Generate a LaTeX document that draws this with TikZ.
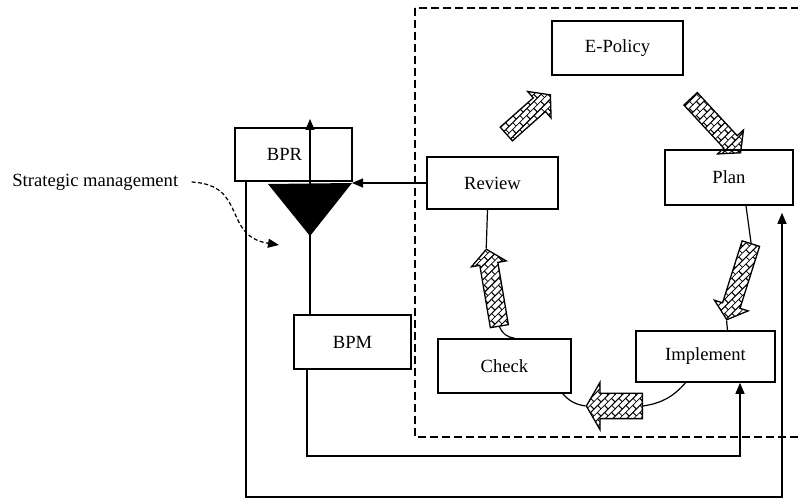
\documentclass[tikz,border=0pt]{standalone}
\usepackage{fontspec}
\setmainfont{Liberation Serif}
\usetikzlibrary{shapes.arrows, arrows.meta, patterns.meta}
\pgfdeclarepattern{
  name=diagbricks,
  bottom left={\pgfpoint{-.1pt}{-.1pt}},
  top right={\pgfpoint{5.1pt}{5.1pt}},
  tile size={\pgfpoint{5pt}{5pt}},
  tile transformation={\pgftransformrotate{45}},
  code={
    \pgfsetlinewidth{0.55pt}
    \pgfpathmoveto{\pgfpoint{0pt}{0pt}}\pgfpathlineto{\pgfpoint{5pt}{0pt}}
    \pgfpathmoveto{\pgfpoint{0pt}{2.5pt}}\pgfpathlineto{\pgfpoint{5pt}{2.5pt}}
    \pgfpathmoveto{\pgfpoint{0pt}{0pt}}\pgfpathlineto{\pgfpoint{0pt}{2.5pt}}
    \pgfpathmoveto{\pgfpoint{2.5pt}{2.5pt}}\pgfpathlineto{\pgfpoint{2.5pt}{5pt}}
    \pgfusepath{stroke}
  }
}
\tikzset{
    box/.style={rectangle, draw=black, line width=0.8pt, fill=white, inner sep=0pt},
    cyclearrow/.style={single arrow, draw=black, line width=0.65pt, pattern=diagbricks, inner xsep=0pt, inner ysep=4.25pt, minimum width=17pt, single arrow head extend=4.25pt, single arrow tip angle=100, sloped, allow upside down, midway},
    arr/.style={-{Triangle[length=5.5pt,width=4.5pt]}, line width=0.6pt},
    link/.style={line width=0.6pt}
}
\begin{document}
\begin{tikzpicture}[x=0.5pt, y=-0.5pt, font=\fontsize{9.3}{11}\selectfont]
    \useasboundingbox (0,0) rectangle (798,501);
    % dashed frame round the cycle
    \draw[dashed, dash pattern=on 4pt off 2pt, line width=0.75pt] (415,8) rectangle (820,437);
    % cycle boxes
    \node[box, minimum width=65.5pt, minimum height=27pt] (epolicy) at (617.5,48) {E-Policy};
    \node[box, minimum width=65.5pt, minimum height=26pt] (review) at (492.5,183) {Review};
    \node[box, minimum width=64pt, minimum height=27.5pt] (plan) at (729,177.5) {Plan};
    \node[box, minimum width=69.5pt, minimum height=25.5pt] (implement) at (705.5,356.5) {Implement};
    \node[box, minimum width=66.5pt, minimum height=27pt] (check) at (504.5,366) {Check};
    % left side
    \node[box, minimum width=58.5pt, minimum height=27pt] (bpm) at (352.5,342) {BPM};
    \node[box, minimum width=58.5pt, minimum height=26.5pt, label={[xshift=-4.5pt]center:BPR}] (bpr) at (293.5,154.5) {};
    \node[anchor=west, inner sep=0pt] (strat) at (12,182) {Strategic management};
    \coordinate (triL) at (268,184);
    \coordinate (triR) at (352,183);
    \coordinate (triB) at (310,236);
    \fill (triL) -- (triR) -- (triB) -- cycle;
    \coordinate (smTip) at (279,245);
    \draw[arr, dashed, dash pattern=on 2pt off 1.2pt] ([xshift=6.5pt]strat.east) .. controls (248,185) and (222,236) .. (smTip);
    % hatched cycle arrows
    \path (503,137) -- (548,97) node[cyclearrow, minimum height=29.5pt] (a1) {};
    \path (688,96) -- (738,150) node[cyclearrow, minimum height=36.8pt] (a2) {};
    \path (752,240) -- (728,316) node[cyclearrow, minimum height=39.9pt] (a3) {};
    \path (646,406) -- (590,406) node[cyclearrow, minimum height=28pt, inner ysep=6pt, minimum width=23pt, single arrow head extend=5.5pt, single arrow tip angle=120] (a4) {};
    \path (500,330) -- (487,253) node[cyclearrow, minimum height=39pt] (a5) {};
    \draw[link] ([xshift=8.5pt]plan.south) -- (a3.tail);
    \draw[link] (a3.tip) -- ([xshift=11pt]implement.north);
    \draw[link] ([xshift=-10pt]implement.south) to[bend left=20] (a4.tail);
    \draw[link] (a4.tip) to[bend left=20] ([xshift=-4.5pt]check.south east);
    \draw[link] ([xshift=5pt]check.north) to[bend left=30] (a5.tail);
    \draw[link] (a5.tip) -- ([xshift=-2.5pt]review.south);
    % feedback connectors
    \draw[arr] (review.west) -- (review.west -| triR);
    \coordinate (outTop) at (310,119);
    \draw[arr] (bpm.north -| outTop) -- (outTop);
    \coordinate (bpmBL) at (307,456);
    \coordinate (bpmBR) at (740,456);
    \draw[arr] (bpm.south -| bpmBL) -- (bpmBL) -- (bpmBR) -- (implement.south -| bpmBR);
    \coordinate (loopBL) at (246,497);
    \coordinate (loopBR) at (782,497);
    \draw[arr, shorten >=3.5pt] (bpr.south -| loopBL) -- (loopBL) -- (loopBR) -- (plan.south -| loopBR);
\end{tikzpicture}
\end{document}
